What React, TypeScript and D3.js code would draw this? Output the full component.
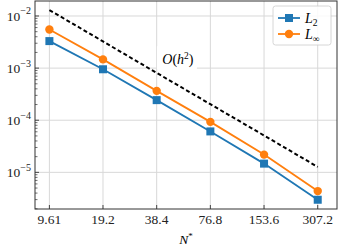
import React from 'react';
import * as d3 from 'd3';

// grid sizes (tick labels) and errors
const nStar = [9.61, 19.2, 38.4, 76.8, 153.6, 307.2];
const nLabels = ['9.61', '19.2', '38.4', '76.8', '153.6', '307.2'];
const errL2 = [3.3e-3, 9.5e-4, 2.43e-4, 6.1e-5, 1.47e-5, 2.98e-6];
const errLinf = [5.5e-3, 1.47e-3, 3.66e-4, 9.3e-5, 2.19e-5, 4.37e-6];
const refOrder2 = [1.3e-2, 3.25e-3, 8.1e-4, 2.03e-4, 5.1e-5, 1.27e-5];
const yMajor = [1e-5, 1e-4, 1e-3, 1e-2];
const yMajorExp = ['−5', '−4', '−3', '−2'];
// where the O(h^2) note sits, in data units
const noteAt = { n: 50.5, err: 1.55e-3 };

const W = 339;
const H = 248;
const margin = { top: 1, right: 2, bottom: 39, left: 35 };
const BLUE = '#1f77b4';
const ORANGE = '#ff7f0e';
const SERIF = '"Liberation Serif", "DejaVu Serif", serif';

export default function App() {
  const iw = W - margin.left - margin.right;
  const ih = H - margin.top - margin.bottom;

  const x = d3.scaleLog().base(2).domain([7.98, 394]).range([0, iw]);
  const y = d3.scaleLog().domain([1.98e-6, 1.94e-2]).range([ih, 0]);

  const line = d3
    .line<number>()
    .x((_, i) => x(nStar[i]))
    .y((d) => y(d));

  // minor ticks: 2..9 x 10^k inside the domain
  const minor = y.ticks().filter((t) => !yMajor.some((m) => Math.abs(m - t) / m < 1e-6));

  const oX = x(noteAt.n);
  const oY = y(noteAt.err);

  return (
    <svg
      width={W}
      height={H}
      style={{ position: 'fixed', left: 0, top: 0, background: '#fff' }}
      fontFamily={SERIF}
    >
      <g transform={`translate(${margin.left},${margin.top})`}>
        {/* grid */}
        {nStar.map((n) => (
          <line key={'gx' + n} x1={x(n)} x2={x(n)} y1={0} y2={ih} stroke="#d8d8d8" strokeWidth={1} />
        ))}
        {yMajor.map((v) => (
          <line key={'gy' + v} x1={0} x2={iw} y1={y(v)} y2={y(v)} stroke="#d8d8d8" strokeWidth={1} />
        ))}

        {/* reference slope */}
        <path d={line(refOrder2) || ''} fill="none" stroke="#000" strokeWidth={2} strokeDasharray="4,2.6" />

        {/* O(h^2) label with white box */}
        <rect x={oX - 21} y={oY - 12} width={40} height={23} fill="#fff" />
        <text x={oX} y={oY + 6} textAnchor="middle" fontSize={14} fontStyle="italic">
          O<tspan fontStyle="normal">(</tspan>h<tspan dy={-5} fontSize={9.5} fontStyle="normal">2</tspan>
          <tspan dy={5} fontStyle="normal">)</tspan>
        </text>

        {/* series */}
        <path d={line(errL2) || ''} fill="none" stroke={BLUE} strokeWidth={1.8} />
        <path d={line(errLinf) || ''} fill="none" stroke={ORANGE} strokeWidth={1.8} />
        {errL2.map((v, i) => (
          <rect key={'s' + i} x={x(nStar[i]) - 4} y={y(v) - 4} width={8} height={8} fill={BLUE} />
        ))}
        {errLinf.map((v, i) => (
          <circle key={'c' + i} cx={x(nStar[i])} cy={y(v)} r={4.2} fill={ORANGE} />
        ))}

        {/* y ticks */}
        {minor.map((v) => (
          <line key={'m' + v} x1={0} x2={2.5} y1={y(v)} y2={y(v)} stroke="#333" strokeWidth={0.7} />
        ))}
        {yMajor.map((v, i) => (
          <g key={'yt' + v}>
            <line x1={0} x2={4} y1={y(v)} y2={y(v)} stroke="#333" strokeWidth={0.9} />
            <text x={-4} y={y(v) + 5} textAnchor="end" fontSize={13.5} fill="#222">
              10<tspan dy={-6.5} fontSize={10}>{yMajorExp[i]}</tspan>
            </text>
          </g>
        ))}

        {/* x ticks */}
        {nStar.map((n, i) => (
          <g key={'xt' + n}>
            <line x1={x(n)} x2={x(n)} y1={ih} y2={ih - 4} stroke="#333" strokeWidth={0.9} />
            <text x={x(n)} y={ih + 14.5} textAnchor="middle" fontSize={13.5} fill="#222">
              {nLabels[i]}
            </text>
          </g>
        ))}
        <text x={iw / 2} y={ih + 35} textAnchor="middle" fontSize={13.5} fontStyle="italic">
          N<tspan dy={-5} fontSize={9} fontStyle="normal">*</tspan>
        </text>

        {/* frame */}
        <rect x={0} y={0} width={iw} height={ih} fill="none" stroke="#333" strokeWidth={1} />

        {/* legend */}
        <g transform={`translate(${iw - 64},5)`}>
          <rect x={0} y={0} width={58} height={39} rx={2.5} fill="#fff" fillOpacity={0.85} stroke="#ccc" strokeWidth={0.8} />
          <line x1={5} x2={27} y1={12} y2={12} stroke={BLUE} strokeWidth={1.8} />
          <rect x={12} y={8} width={8} height={8} fill={BLUE} />
          <text x={32} y={17} fontSize={14} fontStyle="italic">
            L<tspan dy={3} fontSize={9.5} fontStyle="normal">2</tspan>
          </text>
          <line x1={5} x2={27} y1={28} y2={28} stroke={ORANGE} strokeWidth={1.8} />
          <circle cx={16} cy={28} r={4.2} fill={ORANGE} />
          <text x={32} y={33} fontSize={14} fontStyle="italic">
            L<tspan dy={3} fontSize={9.5} fontStyle="normal">∞</tspan>
          </text>
        </g>
      </g>
    </svg>
  );
}
